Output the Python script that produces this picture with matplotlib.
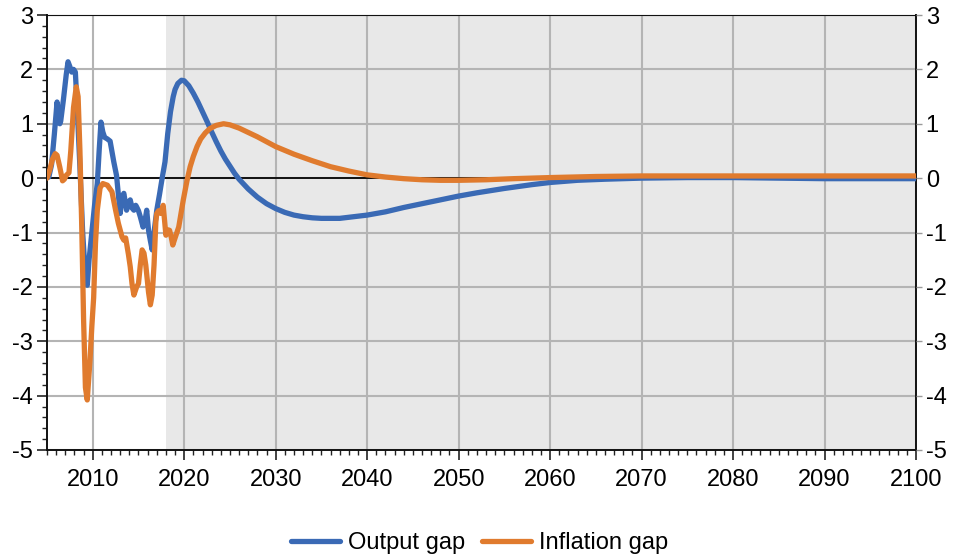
import matplotlib
matplotlib.use("Agg")
import matplotlib.pyplot as plt
from matplotlib.ticker import MultipleLocator

plt.rcParams['font.family'] = ['Liberation Sans', 'DejaVu Sans']
plt.rcParams['axes.unicode_minus'] = False

# ---- data ----
out_years = [2005.0, 2005.2, 2005.5, 2005.8, 2006.1, 2006.4, 2006.5, 2006.8, 2007.1, 2007.3,
             2007.5, 2007.7, 2007.9, 2008.1, 2008.3, 2008.6, 2008.9, 2009.2, 2009.4, 2009.6,
             2009.9, 2010.2, 2010.5, 2010.7, 2010.9, 2011.1, 2011.3, 2011.6, 2011.9, 2012.3,
             2012.6, 2012.8, 2013.0, 2013.2, 2013.4, 2013.7, 2013.9, 2014.1, 2014.3, 2014.5,
             2014.7, 2014.8, 2015.0, 2015.2, 2015.5, 2015.7, 2015.9, 2016.1, 2016.3, 2016.5,
             2016.7, 2017.0, 2017.3, 2017.55, 2017.9, 2018.2, 2018.5, 2018.8, 2019.0, 2019.3,
             2019.7, 2020.0, 2020.5, 2021.0, 2021.5, 2022.0, 2022.5, 2023.0, 2023.5, 2024.0,
             2024.5, 2025.0, 2025.5, 2026.0, 2027, 2028, 2029, 2030, 2031, 2032,
             2033, 2034, 2035, 2036, 2037, 2038, 2039, 2040, 2042, 2044, 2046, 2048, 2050,
             2052, 2055, 2058, 2060, 2063, 2066, 2070, 2075, 2080, 2085, 2090, 2095, 2100]
output_gap = [0.05, 0.02, 0.25, 0.8, 1.40, 1.0, 1.05, 1.45, 1.9, 2.14,
              2.05, 1.95, 2.0, 1.95, 1.3, 0.2, -1.0, -1.8, -1.97, -1.5,
              -1.0, -0.5, -0.1, 0.5, 1.03, 0.85, 0.75, 0.72, 0.68, 0.3,
              0.05, -0.3, -0.65, -0.35, -0.28, -0.59, -0.45, -0.40, -0.55, -0.59,
              -0.5, -0.53, -0.6, -0.71, -0.90, -0.8, -0.59, -0.96, -1.15, -1.32,
              -1.0, -0.59, -0.3, -0.04, 0.30, 0.82, 1.22, 1.50, 1.63, 1.74,
              1.80, 1.79, 1.70, 1.56, 1.40, 1.22, 1.04, 0.85, 0.67, 0.50,
              0.35, 0.22, 0.09, -0.02, -0.20, -0.35, -0.47, -0.56, -0.63, -0.68,
              -0.71, -0.73, -0.74, -0.74, -0.74, -0.72, -0.70, -0.68, -0.62, -0.54, -0.47, -0.40, -0.33,
              -0.27, -0.19, -0.12, -0.08, -0.04, -0.02, 0.0, 0.01, 0.01, 0.0, -0.01, -0.01, -0.01]

inf_years = [2005.0, 2005.3, 2005.6, 2005.9, 2006.1, 2006.4, 2006.7, 2006.9, 2007.1, 2007.4,
             2007.6, 2007.9, 2008.2, 2008.4, 2008.6, 2008.8, 2009.0, 2009.2, 2009.4, 2009.7,
             2009.9, 2010.1, 2010.3, 2010.5, 2010.8, 2011.1, 2011.6, 2012.1, 2012.5, 2012.8,
             2013.2, 2013.4, 2013.6, 2013.9, 2014.1, 2014.3, 2014.5, 2014.8, 2015.0, 2015.2,
             2015.4, 2015.6, 2015.8, 2016.1, 2016.3, 2016.5, 2016.7, 2016.9, 2017.0, 2017.2,
             2017.45, 2017.7, 2018.0, 2018.2, 2018.4, 2018.6, 2018.75, 2019.0, 2019.4, 2019.9,
             2020.3, 2020.65, 2021.0, 2021.4, 2021.8, 2022.3, 2022.8, 2023.5, 2024.3, 2025, 2026,
             2027, 2028, 2029, 2030, 2032, 2034, 2036, 2038, 2040, 2042, 2044, 2046, 2048,
             2050, 2053, 2056, 2060, 2065, 2070, 2080, 2090, 2100]
inflation_gap = [0.0, 0.15, 0.35, 0.45, 0.42, 0.2, -0.05, -0.02, 0.05, 0.1,
                 0.5, 1.3, 1.68, 1.5, 0.5, -0.9, -2.6, -3.85, -4.08, -3.35,
                 -2.73, -2.2, -1.2, -0.59, -0.18, -0.1, -0.13, -0.25, -0.59, -0.83,
                 -1.08, -1.14, -1.1, -1.4, -1.63, -1.95, -2.15, -2.0, -1.94, -1.6,
                 -1.32, -1.38, -1.6, -2.1, -2.33, -2.15, -1.6, -0.8, -0.65, -0.6,
                 -0.65, -0.50, -1.05, -0.95, -0.96, -1.1, -1.23, -1.1, -0.9, -0.4,
                 -0.05, 0.21, 0.40, 0.58, 0.72, 0.83, 0.91, 0.97, 1.0, 0.98, 0.92,
                 0.84, 0.76, 0.67, 0.58, 0.44, 0.32, 0.21, 0.13, 0.06, 0.02, -0.01, -0.03, -0.04,
                 -0.04, -0.03, -0.01, 0.01, 0.03, 0.04, 0.04, 0.04, 0.04]

series_names = ["Output gap", "Inflation gap"]
forecast_start = 2018.0
x_range = (2005, 2100)
y_range = (-5, 3)

# ---- plot ----
W, H = 959, 560
fig = plt.figure(figsize=(W / 100, H / 100), dpi=100)
ax = fig.add_axes([47 / W, 1 - 450 / H, (916 - 47) / W, (450 - 15) / H])

ax.axvspan(forecast_start, x_range[1], color='#e8e8e8', lw=0, zorder=0)
ax.grid(True, which='major', color='#b4b4b4', lw=1.5, zorder=1)
ax.axhline(0, color='#111111', lw=1.4, zorder=2)

ax.plot(out_years, output_gap, color='#3A6AB5', lw=3.8, label=series_names[0],
        zorder=3, solid_joinstyle='round', solid_capstyle='round')
ax.plot(inf_years, inflation_gap, color='#E07B2E', lw=3.8, label=series_names[1],
        zorder=4, solid_joinstyle='round', solid_capstyle='round')

ax.set_xlim(*x_range)
ax.set_ylim(*y_range)
ax.xaxis.set_major_locator(MultipleLocator(10))
ax.xaxis.set_minor_locator(MultipleLocator(1))
ax.yaxis.set_major_locator(MultipleLocator(1))
ax.yaxis.set_minor_locator(MultipleLocator(0.2))
ax.set_axisbelow(True)

ax.tick_params(axis='both', which='major', labelsize=17, length=7, width=1.2,
               direction='out', color='#222222', pad=3)
ax.tick_params(axis='both', which='minor', length=3.6, width=1.0, direction='out',
               color='#222222')
ax.tick_params(axis='x', which='major', pad=7)

for s in ax.spines.values():
    s.set_color('#111111')
    s.set_linewidth(1.4)
ax.spines['top'].set_linewidth(0.8)

ax2 = ax.twinx()
ax2.set_ylim(*y_range)
ax2.yaxis.set_major_locator(MultipleLocator(1))
ax2.tick_params(axis='y', which='major', labelsize=17, length=4, width=1.0,
                color='#999999', direction='out', pad=3)
for s in ax2.spines.values():
    s.set_visible(False)

fig.legend(loc='center', bbox_to_anchor=(0.5, 1 - 543 / H), ncol=2, frameon=False,
           fontsize=17, handlelength=2.1, handletextpad=0.34, columnspacing=0.68)

fig.savefig('out.png', dpi=100)
